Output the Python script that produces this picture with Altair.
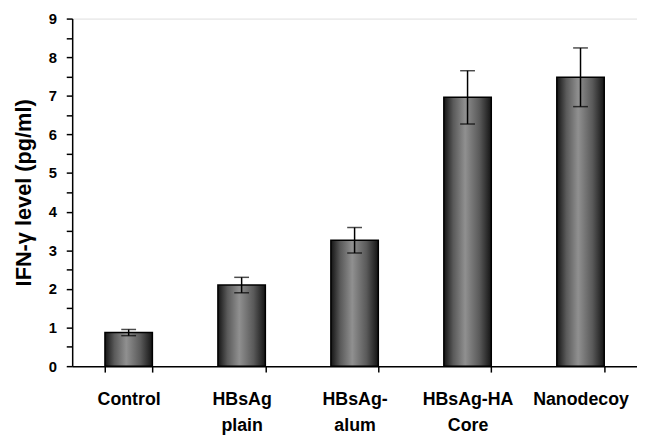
import altair as alt
import pandas as pd

categories = ["Control", "HBsAg\nplain", "HBsAg-\nalum", "HBsAg-HA\nCore", "Nanodecoy"]
means = [0.87, 2.10, 3.26, 6.96, 7.48]
errors = [0.08, 0.20, 0.33, 0.69, 0.76]
y_ticks = [i * 0.5 for i in range(19)]

df = pd.DataFrame({"cat": categories, "mean": means, "err": errors})
df["lo"] = df["mean"] - df["err"]
df["hi"] = df["mean"] + df["err"]

FONT = "Liberation Sans"
Y_TITLE = "IFN-γ level (pg/ml)"

x_enc = alt.X(
    "cat:N",
    sort=categories,
    title=None,
    scale=alt.Scale(paddingInner=0.58, paddingOuter=0.29),
    axis=alt.Axis(
        labelExpr="split(datum.label, '\\n')",
        labelAngle=0,
        labelPadding=19,
        labelLineHeight=26,
        tickBand="extent",
        zindex=1,
    ),
)

y_scale = alt.Scale(domain=[0, 9], nice=False, zero=True)


def y_enc(field):
    return alt.Y(
        field,
        scale=y_scale,
        title=Y_TITLE,
        axis=alt.Axis(
            values=y_ticks,
            labelExpr="datum.value % 1 == 0 ? format(datum.value, 'd') : ''",
            labelOverlap=False,
            domainColor="black",
            domainWidth=1.5,
            tickColor="black",
            tickWidth=1.5,
            tickSize=6,
            zindex=1,
        ),
    )


gradient = alt.Gradient(
    gradient="linear",
    x1=0, x2=1, y1=0, y2=0,
    stops=[
        alt.GradientStop(color="#141414", offset=0),
        alt.GradientStop(color="#5a5a5a", offset=0.2),
        alt.GradientStop(color="#909090", offset=0.45),
        alt.GradientStop(color="#5a5a5a", offset=0.75),
        alt.GradientStop(color="#141414", offset=1),
    ],
)

base = alt.Chart(df)

bars = base.mark_bar(fill=gradient, stroke="black", strokeWidth=1.5).encode(
    x=x_enc,
    y=y_enc("mean:Q"),
)

rules = base.mark_rule(color="black", strokeWidth=1.5).encode(
    x=x_enc,
    y=y_enc("lo:Q"),
    y2="hi:Q",
)

caps_hi = base.mark_tick(color="black", thickness=1.5, size=15, orient="horizontal").encode(
    x=x_enc,
    y=y_enc("hi:Q"),
)
caps_lo = base.mark_tick(color="black", thickness=1.5, size=15, orient="horizontal").encode(
    x=x_enc,
    y=y_enc("lo:Q"),
)

chart = (
    alt.layer(bars, rules, caps_hi, caps_lo)
    .properties(
        width=572,
        height=352,
        autosize=alt.AutoSizeParams(type="none"),
        padding={"left": 65, "top": 8, "right": 0, "bottom": 67},
    )
    .configure_view(stroke="transparent", strokeWidth=0)
    .configure(background="white")
    .configure_axis(
        grid=False,
        domainColor="black",
        domainWidth=1.5,
        tickColor="black",
        tickWidth=1.5,
        tickSize=6,
        labelFont=FONT,
        labelFontWeight="bold",
        labelColor="black",
        titleFont=FONT,
        titleFontWeight="bold",
        titleColor="black",
    )
    .configure_axisX(labelFontSize=18)
    .configure_axisY(labelFontSize=15, labelPadding=10, titleFontSize=22, titlePadding=13)
)

chart.save("out.html", embed_options={"renderer": "svg", "actions": False})
